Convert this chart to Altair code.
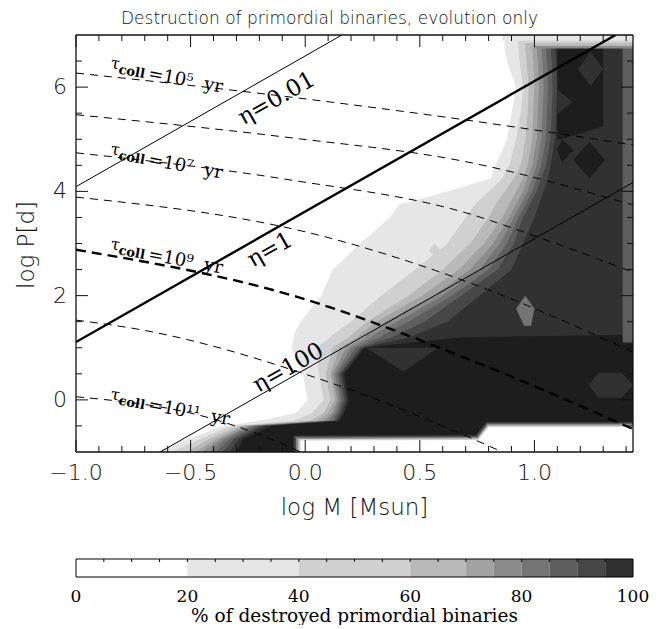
import altair as alt
import pandas as pd

# ---------------- values ----------------
TITLE = "Destruction of primordial binaries, evolution only"
X_TITLE = "log M [Msun]"
Y_TITLE = "log P[d]"
BAR_TITLE = "% of destroyed primordial binaries"

logM_domain = [-1.0, 1.43]
logP_domain = [-1.0, 7.0]

x_major = [-1.0, -0.5, 0.0, 0.5, 1.0]
x_minor = [-0.9, -0.8, -0.7, -0.6, -0.4, -0.3, -0.2, -0.1, 0.1, 0.2, 0.3, 0.4,
           0.6, 0.7, 0.8, 0.9, 1.1, 1.2, 1.3, 1.4]
y_major = [0, 2, 4, 6]
y_minor = [-0.5, 0.5, 1.0, 1.5, 2.5, 3.0, 3.5, 4.5, 5.0, 5.5, 6.5]

# contour levels (% destroyed) and their grey shades
levels = [20, 40, 60, 70, 75, 80, 85, 90, 95, 100]
level_colors = ["#e6e6e6", "#d0d0d0", "#b9b9b9", "#a2a2a2", "#8b8b8b",
                "#747474", "#5e5e5e", "#474747", "#313131", "#1d1d1d"]

# colour bar
bar_lo = [0, 20, 40, 60, 70, 75, 80, 85, 90, 95]
bar_hi = [20, 40, 60, 70, 75, 80, 85, 90, 95, 100]
bar_colors = ["#ffffff", "#e6e6e6", "#d0d0d0", "#b9b9b9", "#a2a2a2",
              "#8b8b8b", "#747474", "#5e5e5e", "#474747", "#313131"]
bar_labels = [0, 20, 40, 60, 80, 100]
bar_ticks = [5, 10, 15, 20, 25, 30, 35, 40, 45, 50, 55, 60, 65, 70, 75, 80, 85, 90, 95]

# contour boundaries: for each log P row, the log M where each level begins
row_logP = [7.0, 6.75, 6.5, 6.0, 5.5, 5.0, 4.5, 4.25, 4.0, 3.75, 3.5, 3.0, 2.5, 2.0,
            1.5, 1.25, 1.2, 1.0, 0.5, 0.0, -0.25, -0.4, -0.5, -0.75, -1.0]
b20 = [0.87, 0.87, 0.88, 0.92, 0.90, 0.88, 0.83, 0.81, 0.62, 0.41, 0.37, 0.24, 0.12, 0.07,
       -0.02, -0.05, -0.05, -0.06, -0.01, 0.01, -0.04, -0.20, -0.36, -0.51, -0.65]
b40 = [0.93, 0.93, 0.935, 0.95, 0.94, 0.92, 0.89, 0.86, 0.80, 0.74, 0.70, 0.62, 0.48, 0.33,
       0.20, 0.12, 0.11, 0.05, 0.06, 0.08, 0.03, -0.05, -0.32, -0.46, -0.58]
b60 = [0.96, 0.96, 0.965, 0.975, 0.97, 0.96, 0.94, 0.91, 0.87, 0.83, 0.80, 0.72, 0.60, 0.45,
       0.27, 0.20, 0.19, 0.12, 0.09, 0.11, 0.08, 0.02, -0.29, -0.42, -0.52]
b70 = [0.99, 0.99, 0.995, 1.0, 0.995, 0.99, 0.97, 0.95, 0.92, 0.89, 0.86, 0.78, 0.67, 0.51,
       0.31, 0.24, 0.23, 0.15, 0.11, 0.13, 0.10, 0.05, -0.27, -0.39, -0.48]
b75 = [1.01, 1.01, 1.015, 1.02, 1.015, 1.01, 0.99, 0.97, 0.95, 0.92, 0.89, 0.82, 0.72, 0.56,
       0.35, 0.27, 0.26, 0.18, 0.12, 0.14, 0.12, 0.08, -0.25, -0.37, -0.45]
b80 = [1.03, 1.03, 1.035, 1.04, 1.035, 1.03, 1.01, 0.99, 0.97, 0.94, 0.91, 0.85, 0.76, 0.60,
       0.40, 0.30, 0.29, 0.20, 0.13, 0.15, 0.13, 0.10, -0.24, -0.35, -0.42]
b85 = [1.05, 1.05, 1.055, 1.06, 1.055, 1.05, 1.03, 1.01, 0.99, 0.96, 0.93, 0.88, 0.80, 0.64,
       0.45, 0.34, 0.33, 0.22, 0.14, 0.16, 0.14, 0.12, -0.22, -0.33, -0.39]
b90 = [1.07, 1.07, 1.075, 1.08, 1.075, 1.07, 1.05, 1.03, 1.01, 0.98, 0.95, 0.91, 0.84, 0.68,
       0.52, 0.40, 0.38, 0.24, 0.15, 0.17, 0.15, 0.13, -0.20, -0.31, -0.36]
b95 = [1.09, 1.09, 1.095, 1.10, 1.095, 1.09, 1.07, 1.06, 1.04, 1.02, 1.00, 0.95, 0.90, 0.76,
       0.62, 0.48, 0.46, 0.25, 0.16, 0.18, 0.16, 0.14, -0.18, -0.29, -0.33]
b100 = [1.43, 1.43, 1.43, 1.43, 1.43, 1.43, 1.43, 1.43, 1.43, 1.43, 1.43, 1.43, 1.43, 1.43,
        1.43, 1.43, 0.68, 0.26, 0.17, 0.19, 0.17, 0.15, -0.15, -0.27, -0.30]
boundaries = [b20, b40, b60, b70, b75, b80, b85, b90, b95, b100]

# patches that break the left-to-right ordering: (level, [(logP, logM_left, logM_right), ...])
patches = [
    (100, [(6.76, 1.10, 1.30), (5.25, 1.10, 1.30), (5.0, 1.10, 1.12)]),
    (100, [(5.0, 1.12, 1.12), (4.8, 1.10, 1.17), (4.55, 1.12, 1.12)]),
    (100, [(4.95, 1.24, 1.24), (4.6, 1.17, 1.31), (4.25, 1.24, 1.24)]),
    (95, [(6.68, 1.245, 1.245), (6.35, 1.19, 1.30), (6.02, 1.245, 1.245)]),
    (95, [(5.95, 1.10, 1.10), (5.72, 1.10, 1.165), (5.48, 1.10, 1.10)]),
    (85, [(6.76, 1.385, 1.43), (1.1, 1.385, 1.43)]),
    (80, [(2.0, 0.96, 0.96), (1.75, 0.92, 1.0), (1.42, 0.955, 0.985)]),
    (40, [(3.0, 0.565, 0.565), (2.87, 0.54, 0.59), (2.74, 0.565, 0.565)]),
    (95, [(0.54, 0.43, 0.43), (1.0, 0.265, 0.58)]),
    (95, [(0.52, 1.28, 1.38), (0.28, 1.236, 1.43), (0.04, 1.28, 1.38)]),
    # fading top edge
    (75, [(6.74, 1.0, 1.43), (7.0, 1.0, 1.43)]),
    (60, [(6.79, 0.97, 1.43), (7.0, 0.97, 1.43)]),
    (40, [(6.84, 0.93, 1.43), (7.0, 0.93, 1.43)]),
    (20, [(6.89, 0.86, 1.43), (7.0, 0.86, 1.43)]),
    # empty strip along the bottom
    (90, [(-1.0, -0.05, 1.43), (-0.69, -0.05, 1.43), (-0.68, 0.745, 1.43), (-0.43, 0.79, 1.43)]),
    (75, [(-1.0, -0.04, 1.43), (-0.72, -0.04, 1.43), (-0.71, 0.75, 1.43), (-0.46, 0.795, 1.43)]),
    (40, [(-1.0, -0.03, 1.43), (-0.75, -0.03, 1.43), (-0.74, 0.752, 1.43), (-0.49, 0.797, 1.43)]),
    (0, [(-1.0, -0.02, 1.43), (-0.78, -0.02, 1.43), (-0.77, 0.755, 1.43), (-0.52, 0.80, 1.43)]),
]

# eta = const lines (solid)
eta_names = ["0.01", "1", "100"]
eta_logM = [[-1.0, 0.16], [-1.0, 1.354], [-0.633, 1.43]]
eta_logP = [[4.09, 7.0], [1.11, 7.0], [-1.0, 4.17]]
eta_width = [1.0, 2.4, 1.0]
eta_text = ["η=0.01", "η=1", "η=100"]
eta_text_logM = [-0.125, -0.153, -0.074]
eta_text_logP = [5.78, 2.877, 0.612]

# tau_coll = const curves (dashed)
tau_exp = [5, 6, 7, 8, 9, 10, 11]
tau_logM = [[-1.0, -0.066, 0.70, 1.43],
            [-1.0, -0.066, 0.70, 1.43],
            [-1.0, -0.066, 0.70, 1.03, 1.43],
            [-1.0, 0.05, 0.66, 1.43],
            [-1.0, -0.035, 0.69, 1.43],
            [-1.0, -0.71, 0.05, 0.69, 0.86],
            [-1.0, -0.415, -0.07, -0.02]]
tau_logP = [[6.27, 5.81, 5.37, 4.89],
            [5.47, 5.03, 4.57, 3.74],
            [4.74, 4.22, 3.59, 3.10, 2.45],
            [3.89, 3.17, 2.34, 0.92],
            [2.88, 1.975, 0.82, -0.56],
            [1.53, 1.34, 0.42, -0.67, -1.0],
            [0.06, -0.35, -0.90, -1.0]]
tau_label_rest = ["=10⁵\u00a0\u00a0yr", "=10⁷\u00a0\u00a0yr", "=10⁹\u00a0\u00a0yr", "=10¹¹\u00a0\u00a0yr"]
tau_label_logM = [-0.852, -0.852, -0.852, -0.852]
tau_label_logP = [6.37, 4.72, 2.90, 0.017]

# ---------------- chart ----------------
W, H = 557, 417
INK = "#111111"
SANS = "DejaVu Sans"
SERIF = "DejaVu Serif"

xscale = alt.Scale(domain=logM_domain, nice=False, zero=False)
yscale = alt.Scale(domain=logP_domain, nice=False, zero=False)
level_color = dict(zip(levels, level_colors))
level_color[0] = "#ffffff"


def XE(field):
    return alt.X(field, scale=xscale, axis=None)


def YE(field):
    return alt.Y(field, scale=yscale, axis=None)


def band(points, color):
    df = pd.DataFrame(points, columns=["logP", "xl", "xr"]).sort_values("logP")
    return alt.Chart(df).mark_area(orient="horizontal", color=color, clip=True,
                                   interpolate="linear").encode(
        y=YE("logP:Q"),
        x=alt.X("xl:Q", scale=xscale, axis=None, stack=None),
        x2=alt.X2("xr:Q"),
    )


layers = []
for lev, b in zip(levels, boundaries):
    pts = [(p, xl, logM_domain[1]) for p, xl in zip(row_logP, b)]
    layers.append(band(pts, level_color[lev]))
for lev, pts in patches:
    layers.append(band(pts, level_color[lev]))

# dashed tau curves
tau_rows = []
for e, ms, ps in zip(tau_exp, tau_logM, tau_logP):
    for m, p in zip(ms, ps):
        tau_rows.append({"tau": e, "logM": m, "logP": p})
tau_df = pd.DataFrame(tau_rows)
thin = tau_df[tau_df.tau != 9]
thick = tau_df[tau_df.tau == 9]
layers.append(alt.Chart(thin).mark_line(color="black", strokeWidth=1, strokeDash=[8, 6],
                                        interpolate="monotone", clip=True).encode(
    x=XE("logM:Q"), y=YE("logP:Q"), detail="tau:N"))
layers.append(alt.Chart(thick).mark_line(color="black", strokeWidth=2.4, strokeDash=[10, 6],
                                         interpolate="monotone", clip=True).encode(
    x=XE("logM:Q"), y=YE("logP:Q")))

# solid eta lines
for name, ms, ps, w in zip(eta_names, eta_logM, eta_logP, eta_width):
    df = pd.DataFrame({"logM": ms, "logP": ps})
    layers.append(alt.Chart(df).mark_line(color="black", strokeWidth=w, clip=True).encode(
        x=XE("logM:Q"), y=YE("logP:Q")))

# eta labels
eta_df = pd.DataFrame({"t": eta_text, "logM": eta_text_logM, "logP": eta_text_logP})
layers.append(alt.Chart(eta_df).mark_text(font=SERIF, fontSize=23, angle=330.4, align="center",
                                          baseline="middle", color="black").encode(
    x=XE("logM:Q"), y=YE("logP:Q"), text="t:N"))

# tau labels (pieces in the same rotated frame)
tl_df = pd.DataFrame({"rest": tau_label_rest, "logM": tau_label_logM, "logP": tau_label_logP})
ANG = 10.5
for txt, size, weight, dx, dy in [("τ", 16, "normal", 0, 0), ("coll", 13, "bold", 9, 4)]:
    layers.append(alt.Chart(tl_df).mark_text(text=txt, font=SERIF, fontSize=size, fontWeight=weight,
                                             angle=ANG, align="left", baseline="alphabetic",
                                             dx=dx, dy=dy, color="black").encode(
        x=XE("logM:Q"), y=YE("logP:Q")))
layers.append(alt.Chart(tl_df).mark_text(font=SERIF, fontSize=18, angle=ANG, align="left",
                                         baseline="alphabetic", dx=39, dy=4, color="black").encode(
    x=XE("logM:Q"), y=YE("logP:Q"), text="rest:N"))

# frame
for enc in [dict(x=alt.value(0), x2=alt.value(W), y=alt.value(0)),
            dict(x=alt.value(0), x2=alt.value(W), y=alt.value(H)),
            dict(y=alt.value(0), y2=alt.value(H), x=alt.value(0)),
            dict(y=alt.value(0), y2=alt.value(H), x=alt.value(W))]:
    layers.append(alt.Chart(pd.DataFrame({"a": [0]})).mark_rule(color=INK, strokeWidth=1.3).encode(**enc))

# ticks (inward, on all four sides)
xmaj = pd.DataFrame({"v": x_major})
xmin = pd.DataFrame({"v": x_minor})
ymaj = pd.DataFrame({"v": y_major})
ymin = pd.DataFrame({"v": y_minor})
for d, ln in [(xmaj, 12), (xmin, 6)]:
    layers.append(alt.Chart(d).mark_rule(color=INK).encode(
        x=XE("v:Q"), y=alt.value(H), y2=alt.value(H - ln)))
    layers.append(alt.Chart(d).mark_rule(color=INK).encode(
        x=XE("v:Q"), y=alt.value(0), y2=alt.value(ln)))
for d, ln in [(ymaj, 12), (ymin, 6)]:
    layers.append(alt.Chart(d).mark_rule(color=INK).encode(
        y=YE("v:Q"), x=alt.value(0), x2=alt.value(ln)))
    layers.append(alt.Chart(d).mark_rule(color=INK).encode(
        y=YE("v:Q"), x=alt.value(W), x2=alt.value(W - ln)))

# tick labels and axis titles
layers.append(alt.Chart(xmaj).mark_text(font=SANS, fontSize=22, fontWeight=200, color=INK,
                                        align="center", baseline="middle").encode(
    x=XE("v:Q"), y=alt.value(H + 21), text=alt.Text("v:Q", format=".1f")))
layers.append(alt.Chart(ymaj).mark_text(font=SANS, fontSize=22, fontWeight=200, color=INK,
                                        align="right", baseline="middle").encode(
    y=YE("v:Q"), x=alt.value(-9), text=alt.Text("v:Q", format="d")))
layers.append(alt.Chart(pd.DataFrame({"t": [X_TITLE]})).mark_text(
    font=SANS, fontSize=23, fontWeight=200, color=INK, align="center", baseline="middle").encode(
    text="t:N", x=alt.value(W / 2), y=alt.value(H + 56)))
layers.append(alt.Chart(pd.DataFrame({"t": [Y_TITLE]})).mark_text(
    font=SANS, fontSize=23, fontWeight=200, color=INK, align="center", baseline="middle",
    angle=270).encode(text="t:N", x=alt.value(-49), y=alt.value(210)))

# title
layers.append(alt.Chart(pd.DataFrame({"t": [TITLE]})).mark_text(
    font=SANS, fontSize=17, fontWeight=200, color=INK, align="center", baseline="alphabetic").encode(
    text="t:N", x=alt.value(W / 2 - 25), y=alt.value(-11)))

main = alt.layer(*layers)

# ---------------- colour bar (own x scale 0..100) ----------------
bscale = alt.Scale(domain=[0, 100], nice=False, zero=False)
BT, BB = 524, 542
bar_df = pd.DataFrame({"lo": bar_lo, "hi": bar_hi, "c": bar_colors})
bar_rect = alt.Chart(bar_df).mark_rect().encode(
    x=alt.X("lo:Q", scale=bscale, axis=None), x2="hi:Q",
    y=alt.value(BT), y2=alt.value(BB),
    color=alt.Color("c:N", scale=None, legend=None))
bar_frame = alt.Chart(pd.DataFrame({"lo": [0], "hi": [100]})).mark_rect(
    filled=False, stroke="black", strokeWidth=1).encode(
    x=alt.X("lo:Q", scale=bscale, axis=None), x2="hi:Q", y=alt.value(BT), y2=alt.value(BB))
bar_tick = alt.Chart(pd.DataFrame({"v": bar_ticks})).mark_rule(color="black").encode(
    x=alt.X("v:Q", scale=bscale, axis=None), y=alt.value(BT), y2=alt.value(BT + 3))
bar_text = alt.Chart(pd.DataFrame({"v": bar_labels})).mark_text(
    font=SERIF, fontSize=17, color="black", baseline="alphabetic").encode(
    x=alt.X("v:Q", scale=bscale, axis=None), y=alt.value(567), text="v:N")
bar_title = alt.Chart(pd.DataFrame({"t": [BAR_TITLE]})).mark_text(
    font=SERIF, fontSize=18.5, color="black", baseline="alphabetic").encode(
    text="t:N", x=alt.value(W / 2), y=alt.value(587))
bar = alt.layer(bar_rect, bar_frame, bar_tick, bar_text, bar_title)

chart = alt.layer(main, bar).resolve_scale(x="independent").properties(
    width=W, height=H,
    autosize=alt.AutoSizeParams(type="none"),
    padding={"left": 68, "top": 27, "right": 20, "bottom": 173},
).configure_view(stroke=None)

chart.save("out.html", embed_options={"renderer": "svg", "actions": False})
